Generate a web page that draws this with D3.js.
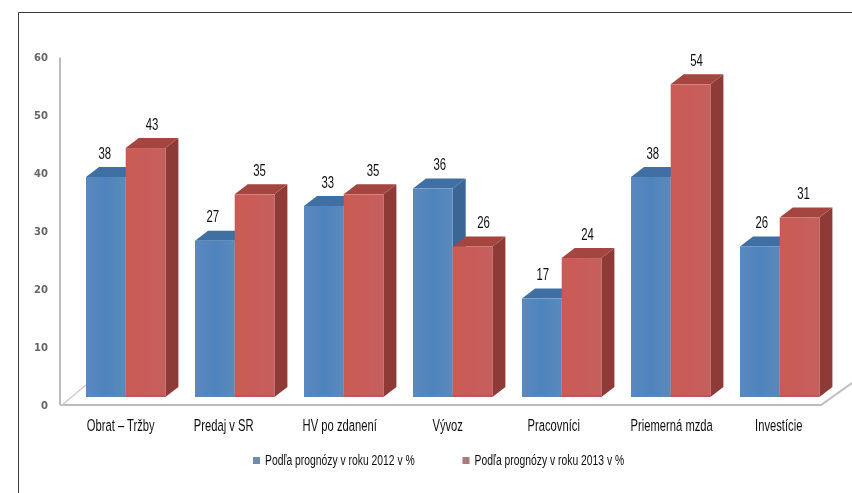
<!DOCTYPE html>
<html><head><meta charset="utf-8">
<script src="https://cdn.jsdelivr.net/npm/d3@7"></script>
<style>html,body{margin:0;padding:0;background:#fff}svg{display:block}</style>
</head><body><svg id="c" width="852" height="493"></svg>
<script>
const categories = ["Obrat – Tržby","Predaj v SR","HV po zdanení","Vývoz","Pracovníci","Priemerná mzda","Investície"];
const series2012 = [38,27,33,36,17,38,26];
const series2013 = [43,35,35,26,24,54,31];
const legendLabels = ["Podľa prognózy v roku 2012 v %","Podľa prognózy v roku 2013 v %"];
const yTicks = [0,10,20,30,40,50,60];

const svg = d3.select("#c");
const font = "'Liberation Sans',sans-serif";
const defs = svg.append("defs");
defs.append("filter").attr("id","soft").append("feGaussianBlur").attr("stdDeviation",0.6);
defs.append("filter").attr("id","mild").append("feGaussianBlur").attr("stdDeviation",0.35);
defs.append("filter").attr("id","faint").append("feGaussianBlur").attr("stdDeviation",0.2);
function grad(id,stops){
  const g = defs.append("linearGradient").attr("id",id);
  stops.forEach(([o,c])=>g.append("stop").attr("offset",o).attr("stop-color",c));
}
grad("gb",[[0,"#5a89bf"],[0.5,"#4f83bd"],[1,"#5a8abc"]]);
grad("gr",[[0,"#cb5a56"],[0.5,"#c95c59"],[1,"#c4605e"]]);

// frame
svg.append("path").attr("d","M18.5,493V12.5H852").attr("fill","none").attr("stroke","#3a3a3a").attr("stroke-width",1);

// scales
const yBar = d3.scaleLinear().domain([0,60]).range([397,49.6]);
const yAxis = d3.scaleLinear().domain([0,60]).range([405,57.6]);
const x0 = d3.scaleBand().domain(categories).range([70.5,833.5]).paddingInner(0).paddingOuter(0);
const barW = 39.7, depthX = 13, depthY = 10;
const groupStart = c => x0(c) + 15.5;

// wall and floor
const wall = svg.append("g").attr("fill","none").attr("stroke","#bdbdbd").attr("filter","url(#mild)");
wall.append("line").attr("x1",60).attr("x2",60).attr("y1",yAxis(60)).attr("y2",yAxis(0)).attr("stroke-width",2);
wall.append("path").attr("d",`M60,${yAxis(0)}H821L852,${yAxis(0)-22}`).attr("stroke-width",2);
wall.append("path").attr("d",`M62,${yAxis(0)}L86,${yAxis(0)-20}`).attr("stroke-width",1.2).attr("stroke","#c8c8c8");

// y axis labels
const ax = svg.append("g").attr("transform","translate(48,0)")
  .call(d3.axisLeft(yAxis).tickValues(yTicks).tickSize(0).tickPadding(0));
ax.select(".domain").remove();
ax.selectAll("text").attr("font-family","'DejaVu Sans',sans-serif").attr("font-size",10)
  .attr("font-weight","bold").attr("fill","#666").attr("filter","url(#soft)");

// bars
function bar3d(g,x,v,front,top,side,edge){
  const t = yBar(v), b = yBar(0);
  g.append("path").attr("fill",side)
    .attr("d",`M${x+barW},${t}L${x+barW+depthX},${t-depthY}V${b-depthY}L${x+barW},${b}Z`);
  g.append("path").attr("fill",top)
    .attr("d",`M${x},${t}L${x+depthX},${t-depthY}H${x+barW+depthX}L${x+barW},${t}Z`);
  g.append("rect").attr("x",x).attr("y",t).attr("width",barW).attr("height",b-t).attr("fill",front);
  g.append("rect").attr("x",x).attr("y",b-2).attr("width",barW).attr("height",2).attr("fill",edge);
}
const bars = svg.append("g").attr("filter","url(#mild)");
const labels = [];
const blueLabelShift = [-1,-2,4,7,1,2,2];
const redLabelShift = [6.5,5,9.5,11,6,6,4];
categories.forEach((c,i)=>{
  const s = groupStart(c);
  const g = bars.append("g");
  bar3d(g,s,series2012[i],"url(#gb)","#3f6fa3","#3a6595","#5f86b3");
  bar3d(g,s+barW,series2013[i],"url(#gr)","#a5453f","#8e3b39","#b9595a");
  labels.push([s+barW/2+blueLabelShift[i],yBar(series2012[i])-24,series2012[i]]);
  labels.push([s+barW*1.5+redLabelShift[i],yBar(series2013[i])-24,series2013[i]]);
});

// squeezed text, standing in for the condensed face of the reference
function squeezed(sel){
  return sel.attr("text-anchor","middle").attr("dominant-baseline","central")
    .attr("font-family",font).attr("fill","#111").attr("filter","url(#faint)");
}

// data labels
squeezed(svg.append("g").selectAll("text").data(labels).join("text")
  .attr("transform",d=>`translate(${d[0]},${d[1]}) scale(0.69,1)`)
  .attr("font-size",16.5).text(d=>d[2]));

// category labels
const labelShift = [0,-6,1,0,-3,6,4];
squeezed(svg.append("g").selectAll("text").data(categories).join("text")
  .attr("transform",(c,i)=>`translate(${groupStart(c)+barW-5+labelShift[i]},425) scale(0.68,1)`)
  .attr("font-size",16.5).text(c=>c));

// legend
const lg = svg.append("g").selectAll("g").data(legendLabels).join("g")
  .attr("transform",(d,i)=>`translate(${253+i*209.5},460)`);
lg.append("rect").attr("x",0).attr("y",-3).attr("width",7).attr("height",7)
  .attr("fill",(d,i)=>i?"#a87a78":"#6d8cb0").attr("filter","url(#soft)");
squeezed(lg.append("text").attr("transform","translate(12,0) scale(0.725,1)")
  .attr("font-size",14.3).text(d=>d)).attr("text-anchor","start");
</script></body></html>
